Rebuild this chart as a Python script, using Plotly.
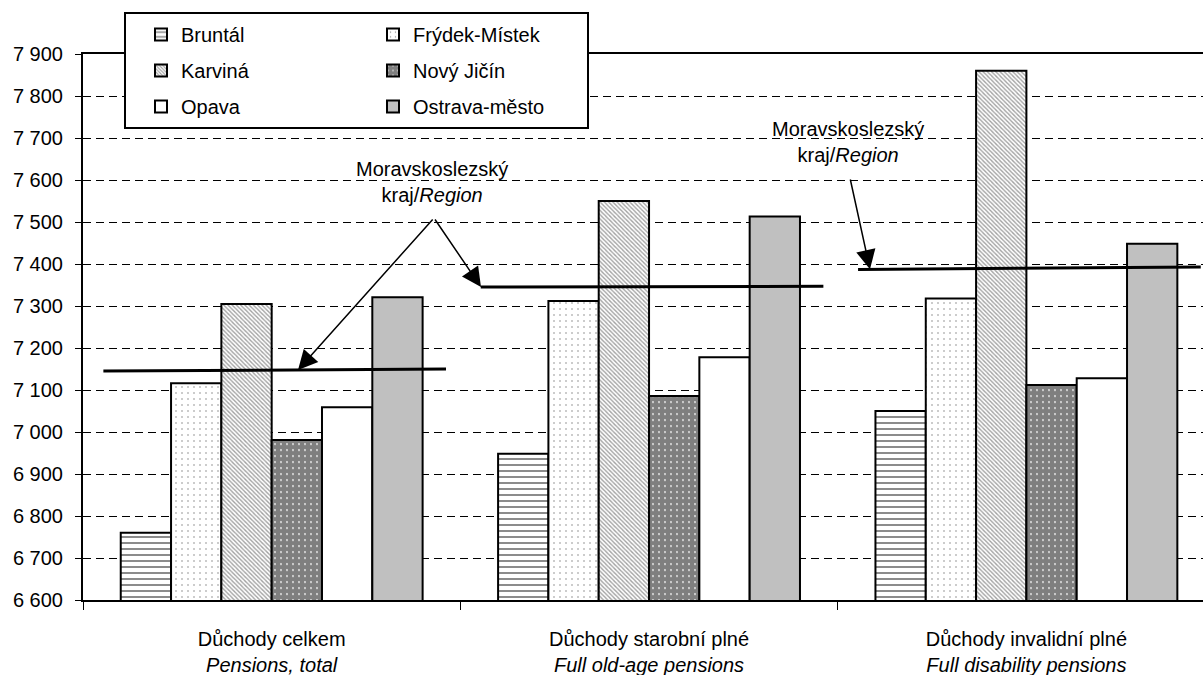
import plotly.graph_objects as go

# ---------------- data ----------------
categories = [
    "Důchody celkem<br><i>Pensions, total</i>",
    "Důchody starobní plné<br><i>Full old-age pensions</i>",
    "Důchody invalidní plné<br><i>Full disability pensions</i>",
]
districts = ["Bruntál", "Frýdek-Místek", "Karviná", "Nový Jičín", "Opava", "Ostrava-město"]
bruntal = [6760, 6948, 7050]
frydek = [7116, 7312, 7318]
karvina = [7305, 7550, 7860]
novy_jicin = [6981, 7086, 7112]
opava = [7059, 7178, 7128]
ostrava = [7321, 7513, 7448]
series = [bruntal, frydek, karvina, novy_jicin, opava, ostrava]
region_left = [7145, 7345, 7387]
region_right = [7150, 7347, 7393]
y_ticks = list(range(6600, 7901, 100))
y_ticktext = [f"{v:,}".replace(",", " ") for v in y_ticks]

# ---------------- layout constants ----------------
W, H = 1203, 675
ML, MR, MT, MB = 83, 0, 54, 75
XR = [-0.5, 2.468]
YR = [6600, 7900]
FONT = "Liberation Sans, Arial, sans-serif"

PW = W - ML - MR
PH = H - MT - MB


def px_x(v):
    return ML + (v - XR[0]) / (XR[1] - XR[0]) * PW


def px_y(v):
    return MT + (YR[1] - v) / (YR[1] - YR[0]) * PH


def x_of_px(p):
    return XR[0] + (p - ML) / PW * (XR[1] - XR[0])


def paper_x(p):
    return (p - ML) / PW


def paper_y(p):
    return (H - MB - p) / PH


styles = [
    dict(color="white", pattern=dict(shape="-", size=6, solidity=0.3, fgcolor="black", bgcolor="white")),
    dict(color="white", pattern=dict(shape=".", size=6, solidity=0.05, fgcolor="black", bgcolor="white")),
    dict(color="white", pattern=dict(shape="\\", size=3, solidity=0.45, fgcolor="#444", bgcolor="white")),
    dict(color="white", pattern=dict(shape=".", size=6, solidity=0.85, fgcolor="black", bgcolor="white")),
    dict(color="white"),
    dict(color="#c0c0c0"),
]

fig = go.Figure()
cats_idx = list(range(len(categories)))
for i, (name, vals) in enumerate(zip(districts, series)):
    fig.add_trace(go.Bar(
        x=categories, y=vals, name=name,
        marker=dict(**styles[i], line=dict(color="black", width=2)),
        legend="legend" if i % 2 == 0 else "legend2",
        legendgroup=f"g{i}",
        hoverinfo="skip",
    ))

# region lines
HL, HR = 0.446, 0.462
for i in cats_idx:
    fig.add_trace(go.Scatter(
        x=[i - HL, i + HR], y=[region_left[i], region_right[i]],
        mode="lines", line=dict(color="black", width=3),
        xaxis="x2", showlegend=False, hoverinfo="skip",
    ))


def region_at(i, xv):
    t = (xv - (i - HL)) / (HL + HR)
    return region_left[i] + t * (region_right[i] - region_left[i])


annotations = []
label = "Moravskoslezský<br>kraj/<i>Region</i>"
annotations.append(dict(x=x_of_px(432), y=7595, xref="x2", yref="y", text=label,
                        showarrow=False, font=dict(size=20, family=FONT, color="black")))
annotations.append(dict(x=x_of_px(848), y=7690, xref="x2", yref="y", text=label,
                        showarrow=False, font=dict(size=20, family=FONT, color="black")))

arrows = [
    (0, x_of_px(298), (434, 218)),
    (1, x_of_px(481), (434, 218)),
    (2, x_of_px(870), (850, 178)),
]
for gi, tx, (tailx, taily) in arrows:
    ty = region_at(gi, tx)
    annotations.append(dict(
        x=tx, y=ty, xref="x2", yref="y", text="", showarrow=True,
        ax=tailx - px_x(tx), ay=taily - px_y(ty),
        arrowhead=2, arrowsize=2.6, arrowwidth=1.5, arrowcolor="black", standoff=0,
    ))

fig.update_layout(
    width=W, height=H,
    margin=dict(l=ML, r=MR, t=MT, b=MB, pad=0),
    paper_bgcolor="white", plot_bgcolor="white",
    font=dict(family=FONT, size=20, color="black"),
    barmode="group", bargap=0.2, bargroupgap=0,
    xaxis=dict(
        type="category", range=XR, showline=True, linecolor="black", linewidth=2,
        mirror=True, ticks="outside", tickson="boundaries", ticklen=8, tickcolor="black",
        tickwidth=1, showgrid=False, ticklabelstandoff=20,
        tickfont=dict(size=20, family=FONT, color="black"),
    ),
    xaxis2=dict(range=XR, overlaying="x", visible=False),
    yaxis=dict(
        range=YR, tickvals=y_ticks, ticktext=y_ticktext, showline=True, linecolor="black",
        linewidth=2, ticks="outside", ticklen=6, tickcolor="black", tickwidth=1,
        showgrid=True, gridcolor="black", gridwidth=1, griddash="8px,5px",
        zeroline=False, ticklabelstandoff=8,
        tickfont=dict(size=20, family=FONT, color="black"),
    ),
    legend=dict(
        x=paper_x(141), y=paper_y(15), xanchor="left", yanchor="top",
        bgcolor="rgba(0,0,0,0)", borderwidth=0, tracegroupgap=7,
        font=dict(size=20, family=FONT, color="black"),
    ),
    legend2=dict(
        x=paper_x(373), y=paper_y(15), xanchor="left", yanchor="top",
        bgcolor="rgba(0,0,0,0)", borderwidth=0, tracegroupgap=7,
        font=dict(size=20, family=FONT, color="black"),
    ),
    shapes=[dict(
        type="rect", xref="paper", yref="paper",
        x0=paper_x(125), x1=paper_x(588), y0=paper_y(128), y1=paper_y(13),
        line=dict(color="black", width=2), fillcolor="white", layer="above",
    )],
    annotations=annotations,
    showlegend=True,
)

fig.write_html("out.html", config={"displayModeBar": False},
               post_script="document.body.style.margin='0';")
